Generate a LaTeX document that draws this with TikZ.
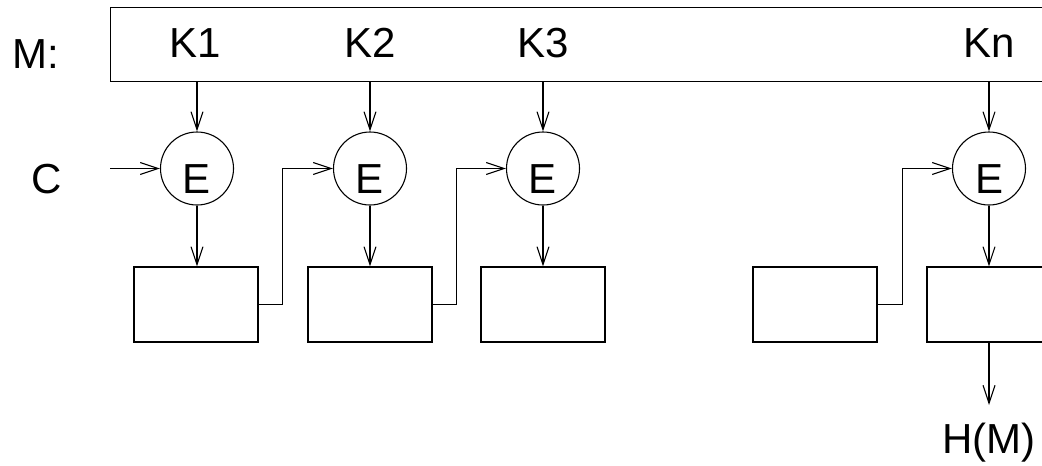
\documentclass[tikz,border=0pt]{standalone}
\usepackage{fontspec}
\setmainfont{Liberation Sans}
\usetikzlibrary{arrows.meta}
\begin{document}
\begin{tikzpicture}[x=1pt,y=-1pt,
  every node/.style={font=\fontsize{42}{50}\selectfont},
  line width=1.1pt,
  arr/.style={-{Straight Barb[length=18pt,width=12pt,line width=1.1pt]}},
  enc/.style={draw,circle,minimum size=73pt,inner sep=0pt,text height=50pt,text depth=0pt},
  blk/.style={draw,rectangle,minimum width=124pt,minimum height=75pt,inner sep=0pt},
  lbl/.style={inner sep=0pt,anchor=base}]
\useasboundingbox (0,0) rectangle (1042,466);
\clip (0,0) rectangle (1042,466);
% message box
\node[draw,rectangle,minimum width=960pt,minimum height=74pt,inner sep=0pt,anchor=north west] (mbox) at (109.5,7) {};
\node[lbl] (mlab) at (36,68) {M:};
\node[lbl] (k1) at (195,57) {K1};
\node[lbl] (k2) at (370,57) {K2};
\node[lbl] (k3) at (543,57) {K3};
\node[lbl] (kn) at (989,57) {Kn};
\node[lbl] (clab) at (47,193) {C};
% encryption stages
\node[enc] (e1) at (197,168.5) {E};
\node[enc] (e2) at (370,168.5) {E};
\node[enc] (e3) at (543,168.5) {E};
\node[enc] (en) at (989,168.5) {E};
% registers
\node[blk] (r1) at (196,304.5) {};
\node[blk] (r2) at (370,304.5) {};
\node[blk] (r3) at (543,304.5) {};
\node[blk] (r4) at (815,304.5) {};
\node[blk] (r5) at (989,304.5) {};
\node[lbl] (hm) at (989,453) {H(M)};
\coordinate (cin) at (110,168.5);
\coordinate (hmtop) at (989,405);
% connectors
\draw[arr] (mbox.south -| e1) -- (e1.north);
\draw[arr] (mbox.south -| e2) -- (e2.north);
\draw[arr] (mbox.south -| e3) -- (e3.north);
\draw[arr] (mbox.south -| en) -- (en.north);
\draw[arr] (cin) -- (e1.west);
\draw[arr] (e1.south) -- (e1.south |- r1.north);
\draw[arr] (e2.south) -- (r2.north);
\draw[arr] (e3.south) -- (r3.north);
\draw[arr] (en.south) -- (r5.north);
\draw[arr] (r1.east) -- ++(24,0) |- (e2.west);
\draw[arr] (r2.east) -- ++(24,0) |- (e3.west);
\draw[arr] (r4.east) -- ++(25,0) |- (en.west);
\draw[arr] (r5.south) -- (hmtop);
\end{tikzpicture}
\end{document}
